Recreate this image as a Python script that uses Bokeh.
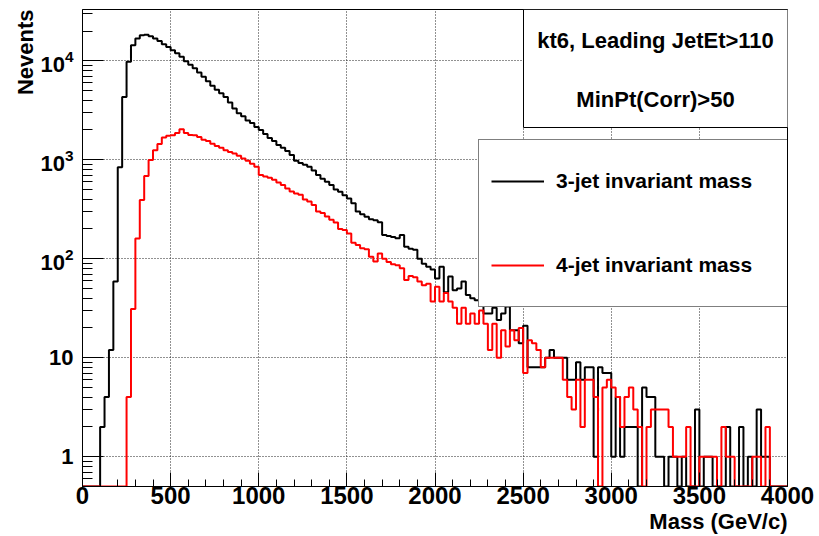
import numpy as np
from bokeh.plotting import figure
from bokeh.models import (Range1d, FixedTicker, Legend, LegendItem,
                          BoxAnnotation, Label, Title, LogTickFormatter)
from bokeh.embed import file_html
from bokeh.resources import INLINE

# ---------------- data ----------------
BIN_LOW = 0
BIN_WIDTH = 25          # GeV per bin, 160 bins from 0 to 4000

jet3_counts = [
    0, 0, 0, 0, 2, 4, 12, 59, 840, 4300,
    9800, 14400, 16800, 18100, 18300, 17700, 16800, 15900, 14700, 13800,
    12800, 11900, 11000, 9900, 9100, 8400, 7600, 6900, 6200, 5600,
    5100, 4700, 4300, 3800, 3300, 2950, 2750, 2500, 2350, 2150,
    2000, 1820, 1660, 1550, 1410, 1320, 1230, 1120, 980, 930,
    890, 850, 780, 700, 645, 600, 556, 500, 475, 437,
    407, 363, 300, 282, 265, 251, 245, 234, 174, 170,
    166, 161, 174, 132, 126, 123, 100, 89, 83, 78,
    63, 83, 46, 66, 48, 50, 59, 43, 40, 38,
    34, 28, 28, 32, 24, 28, 33, 19, 19, 14,
    21, 8, 8, 8, 8, 10, 12, 10, 10, 10,
    6, 6, 9, 6, 8, 8, 1, 8, 7, 7,
    1, 4, 1, 2, 2, 2, 0, 5, 4, 4,
    1, 1, 0, 1, 1, 0, 1, 0, 0, 3,
    0, 1, 1, 0, 0, 0, 2, 0, 0, 2,
    0, 1, 0, 3, 1, 1, 0, 0, 0, 0,
]

jet4_counts = [
    0, 0, 0, 0, 0, 0, 0, 0, 0, 0,
    4, 31, 160, 392, 685, 993, 1250, 1440, 1680, 1750,
    1770, 1870, 2040, 1860, 1780, 1770, 1700, 1590, 1550, 1450,
    1375, 1320, 1250, 1200, 1160, 1100, 1030, 980, 910, 850,
    700, 676, 660, 630, 590, 556, 513, 479, 457, 443,
    398, 378, 350, 300, 290, 268, 248, 232, 200, 195,
    180, 145, 138, 128, 125, 105, 94, 113, 100, 93,
    88, 86, 80, 61, 67, 65, 59, 54, 56, 37,
    52, 37, 45, 37, 32, 22, 32, 22, 28, 22,
    30, 22, 12, 22, 10, 19, 13, 19, 15, 20,
    7, 15, 14, 12, 8, 10, 10, 10, 10, 6,
    4, 3, 6, 2, 6, 6, 4, 0, 5, 6,
    5, 4, 2, 4, 5, 3, 2, 0, 2, 3,
    3, 3, 3, 2, 1, 1, 1, 2, 0, 0,
    1, 1, 1, 1, 0, 2, 1, 1, 0, 0,
    0, 0, 1, 1, 0, 2, 0, 0, 0, 0,
]

series_labels = ["3-jet invariant mass", "4-jet invariant mass"]
series_colors = ["#000000", "#ff0000"]

x_major_ticks = [0, 500, 1000, 1500, 2000, 2500, 3000, 3500, 4000]
y_major_ticks = [1, 10, 100, 1000, 10000]
y_plain_labels = {1: "1", 10: "10"}

title_lines = ["kt6, Leading JetEt>110", "MinPt(Corr)>50"]
x_title = "Mass (GeV/c)"
y_title = "Nevents"

X_MIN, X_MAX = 0, 4000
Y_MIN, Y_MAX = 0.5, 33000

FONT = "Liberation Sans"

# ---------------- figure ----------------
p = figure(width=819, height=536, output_backend="svg", toolbar_location=None,
           x_range=Range1d(X_MIN, X_MAX), y_range=Range1d(Y_MIN, Y_MAX),
           y_axis_type="log",
           min_border_left=82, min_border_right=32,
           min_border_top=9, min_border_bottom=50)
p.background_fill_color = "white"
p.border_fill_color = "white"
p.outline_line_color = "black"
p.outline_line_width = 1

renderers = []
for counts, color in zip([jet3_counts, jet4_counts], series_colors):
    c = np.asarray(counts, dtype=float)
    edges = BIN_LOW + BIN_WIDTH * np.arange(len(c) + 1)
    yv = np.where(c > 0, c, Y_MIN)
    ys = np.append(yv, yv[-1])
    r = p.step(edges, ys, mode="after", line_color=color, line_width=2)
    renderers.append(r)

# ticks
x_minor = list(range(X_MIN, X_MAX + 1, 100))
y_minor = [m * 10.0 ** e for e in range(-1, 5) for m in range(2, 10)
           if Y_MIN <= m * 10.0 ** e <= Y_MAX]

p.xaxis.ticker = FixedTicker(ticks=x_major_ticks, minor_ticks=x_minor)
p.yaxis.ticker = FixedTicker(ticks=y_major_ticks, minor_ticks=y_minor)
p.yaxis.formatter = LogTickFormatter(min_exponent=1)
p.yaxis.major_label_overrides = y_plain_labels

for ax in (p.xaxis, p.yaxis):
    ax.axis_line_color = "black"
    ax.axis_line_width = 1
    ax.major_tick_line_color = "black"
    ax.minor_tick_line_color = "black"
    ax.major_tick_out = 0
    ax.minor_tick_out = 0
    ax.major_label_text_font = FONT
    ax.major_label_text_font_style = "bold"
    ax.major_label_text_color = "black"

p.xaxis.major_tick_in = 14
p.xaxis.minor_tick_in = 7
p.xaxis.major_label_text_font_size = "24px"
p.xaxis.major_label_standoff = 0
p.yaxis.major_tick_in = 21
p.yaxis.minor_tick_in = 10
p.yaxis.major_label_text_font_size = "22px"
p.yaxis.major_label_standoff = 9

# grid
p.xgrid.ticker = FixedTicker(ticks=x_major_ticks)
p.ygrid.ticker = FixedTicker(ticks=y_major_ticks)
for g in (p.xgrid, p.ygrid):
    g.grid_line_color = "#222222"
    g.grid_line_dash = "1 2"
    g.grid_line_width = 1

# axis titles
p.add_layout(Title(text=y_title, align="right", standoff=0,
                   text_font=FONT, text_font_style="bold",
                   text_color="black", text_font_size="22px"), "left")
p.add_layout(Title(text=x_title, align="right", standoff=0,
                   text_font=FONT, text_font_style="bold",
                   text_color="black", text_font_size="22px"), "below")

# top text box
p.add_layout(BoxAnnotation(left=706, right=709, top=474, bottom=429,
                           left_units="screen", right_units="screen",
                           top_units="screen", bottom_units="screen",
                           fill_color="black", fill_alpha=1, line_alpha=0))
p.add_layout(BoxAnnotation(left=441, right=706, top=477, bottom=359,
                           left_units="screen", right_units="screen",
                           top_units="screen", bottom_units="screen",
                           fill_color="white", fill_alpha=1,
                           line_color="black", line_width=1, line_alpha=1))
for txt, yy in zip(title_lines, [446, 387]):
    p.add_layout(Label(x=573, y=yy, x_units="screen", y_units="screen",
                       text=txt, text_align="center", text_baseline="middle",
                       text_font=FONT, text_font_style="bold",
                       text_color="black", text_font_size="22px"))

# legend
legend = Legend(items=[LegendItem(label=lab, renderers=[r])
                       for lab, r in zip(series_labels, renderers)],
                location=(396, 179), orientation="vertical",
                margin=0, padding=12, spacing=26,
                glyph_width=53, glyph_height=58, label_height=58,
                label_width=220, label_standoff=12,
                label_text_font=FONT, label_text_font_style="bold",
                label_text_color="black", label_text_font_size="21px",
                border_line_color="black", border_line_width=1,
                background_fill_color="white", background_fill_alpha=1)
p.add_layout(legend)

open("out.html", "w").write(file_html(p, INLINE))
